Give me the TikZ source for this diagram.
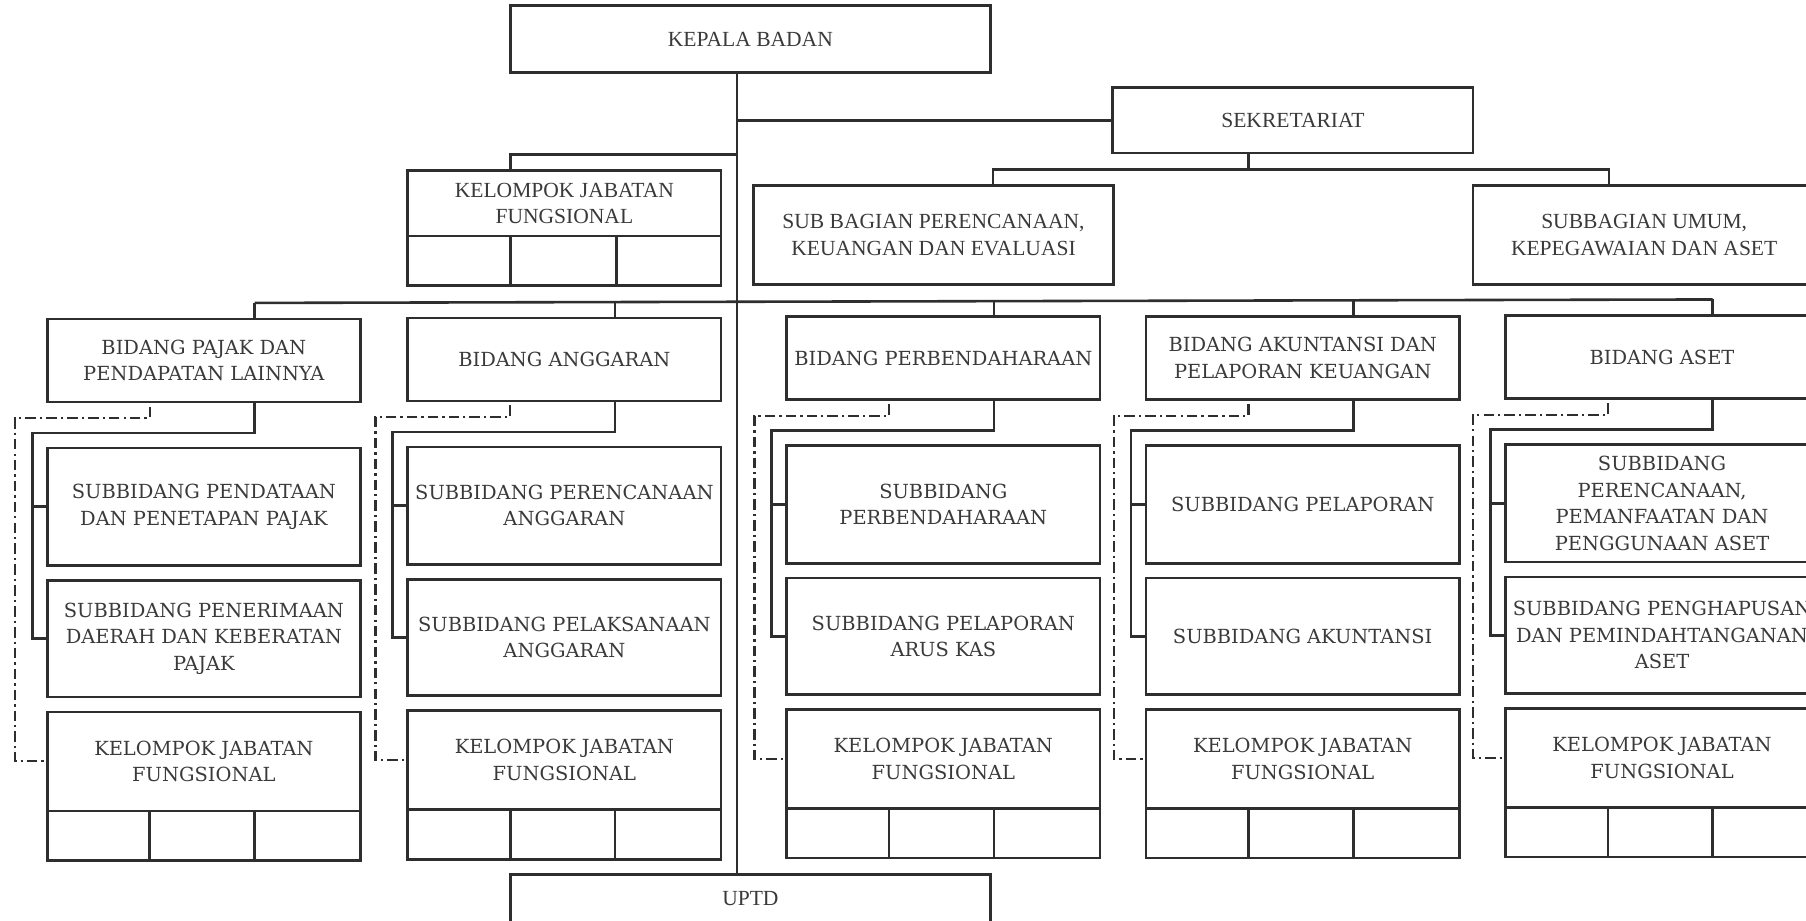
\documentclass[tikz,border=0pt]{standalone}
\usepackage{fontspec}
\newfontfamily\topf{Liberation Serif}
\newfontfamily\lowf{DejaVu Serif}
\definecolor{linec}{HTML}{2E2E2E}
\definecolor{textc}{HTML}{3A3A3A}
\def\pxu{0.025cm}
\tikzset{
  basebox/.style={draw=linec, line width=1.6pt, text=textc, align=center, inner sep=0pt, outer sep=0pt},
  topbox/.style={basebox, font=\topf\fontsize{13.3}{16.4}\selectfont},
  lowbox/.style={basebox, font=\lowf\fontsize{12}{16.4}\selectfont},
  cellbox/.style={basebox},
  conn/.style={draw=linec, line width=1.6pt},
  ddash/.style={conn, line width=1.4pt, dash pattern=on 6.5pt off 2.5pt on 1.4pt off 2.5pt}
}
\newcommand\mkbox[7]{%
  \node[#1, minimum width={(#5-#3)*\pxu}, minimum height={(#6-#4)*\pxu}] (#2) at ({(#3+#5)/2},{(#4+#6)/2}) {#7};}
\newcommand\orgcol[6]{%
 \begin{scope}[shift={(#2,#3)}]
  \mkbox{lowbox}{#1b}{0}{0}{272}{72}{#4}
  \mkbox{lowbox}{#1s1}{0}{112}{272}{214}{#5}
  \mkbox{lowbox}{#1s2}{0}{227}{272}{328}{#6}
  \mkbox{lowbox}{#1k}{0}{341}{272}{427}{KELOMPOK JABATAN\\FUNGSIONAL}
  \mkbox{cellbox}{#1c1}{0}{427}{89}{470}{}
  \mkbox{cellbox}{#1c2}{89}{427}{180}{470}{}
  \mkbox{cellbox}{#1c3}{180}{427}{272}{470}{}
  \coordinate (#1top) at (180,-14);
  \coordinate (#1sc) at (-13,99);
  \coordinate (#1dc) at (-28,86);
  \coordinate (#1ds) at (89,76);
 \end{scope}
 \draw[conn] (#1top) -- (#1b.north -| #1top);
 \draw[conn] (#1b.south -| #1top) |- (#1sc) |- (#1s2.west);
 \draw[conn] (#1s1.west -| #1sc) -- (#1s1.west);
 \draw[ddash] (#1ds) |- (#1dc) |- (#1k.west);
}
\begin{document}
\begin{tikzpicture}[x=0.025cm, y=-0.025cm]
\useasboundingbox (0,0) rectangle (1568,799);
\fill[white] (0,0) rectangle (1568,799);
\clip (0,0) rectangle (1568,799);

% top part
\mkbox{topbox}{kepala}{443}{5}{860}{63}{KEPALA BADAN}
\mkbox{topbox}{sek}{966}{76}{1279}{133}{SEKRETARIAT}
\mkbox{topbox}{subA}{654}{161}{967}{247}{SUB BAGIAN PERENCANAAN,\\KEUANGAN DAN EVALUASI}
\mkbox{topbox}{subB}{1279}{161}{1576}{247}{SUBBAGIAN UMUM,\\KEPEGAWAIAN DAN ASET}
\mkbox{topbox}{kjf0}{354}{148}{626}{205}{KELOMPOK JABATAN\\FUNGSIONAL}
\mkbox{cellbox}{kjf0a}{354}{205}{443}{248}{}
\mkbox{cellbox}{kjf0b}{443}{205}{535}{248}{}
\mkbox{cellbox}{kjf0c}{535}{205}{626}{248}{}
\mkbox{topbox}{uptd}{443}{759}{860}{801}{UPTD}

% columns
\orgcol{p}{41}{277}{BIDANG PAJAK DAN\\PENDAPATAN LAINNYA}{SUBBIDANG PENDATAAN\\DAN PENETAPAN PAJAK}{SUBBIDANG PENERIMAAN\\DAERAH DAN KEBERATAN\\PAJAK}
\orgcol{a}{354}{276}{BIDANG ANGGARAN}{SUBBIDANG PERENCANAAN\\ANGGARAN}{SUBBIDANG PELAKSANAAN\\ANGGARAN}
\orgcol{b}{683}{275}{BIDANG PERBENDAHARAAN}{SUBBIDANG\\PERBENDAHARAAN}{SUBBIDANG PELAPORAN\\ARUS KAS}
\orgcol{k}{995}{275}{BIDANG AKUNTANSI DAN\\PELAPORAN KEUANGAN}{SUBBIDANG PELAPORAN}{SUBBIDANG AKUNTANSI}
\orgcol{s}{1307}{274}{BIDANG ASET}{SUBBIDANG\\PERENCANAAN,\\PEMANFAATAN DAN\\PENGGUNAAN ASET}{SUBBIDANG PENGHAPUSAN\\DAN PEMINDAHTANGANAN\\ASET}

% connectors
\coordinate (mx) at (640,0);
\draw[conn] (kepala.south -| mx) -- (uptd.north -| mx);
\draw[conn] (sek.west -| mx) -- (sek.west);
\coordinate (kj0) at (443,134);
\draw[conn] (kj0 -| mx) -- (kj0) -- (kj0 |- kjf0.north);
\coordinate (sb0) at (1084,147);
\coordinate (sb1) at (862,147);
\coordinate (sb2) at (1397,147);
\draw[conn] (sek.south -| sb0) -- (sb0);
\draw[conn] (subA.north -| sb1) -- (sb1) -- (sb2) -- (subB.north -| sb2);
\draw[conn] (ptop) -- (stop);
\end{tikzpicture}
\end{document}
